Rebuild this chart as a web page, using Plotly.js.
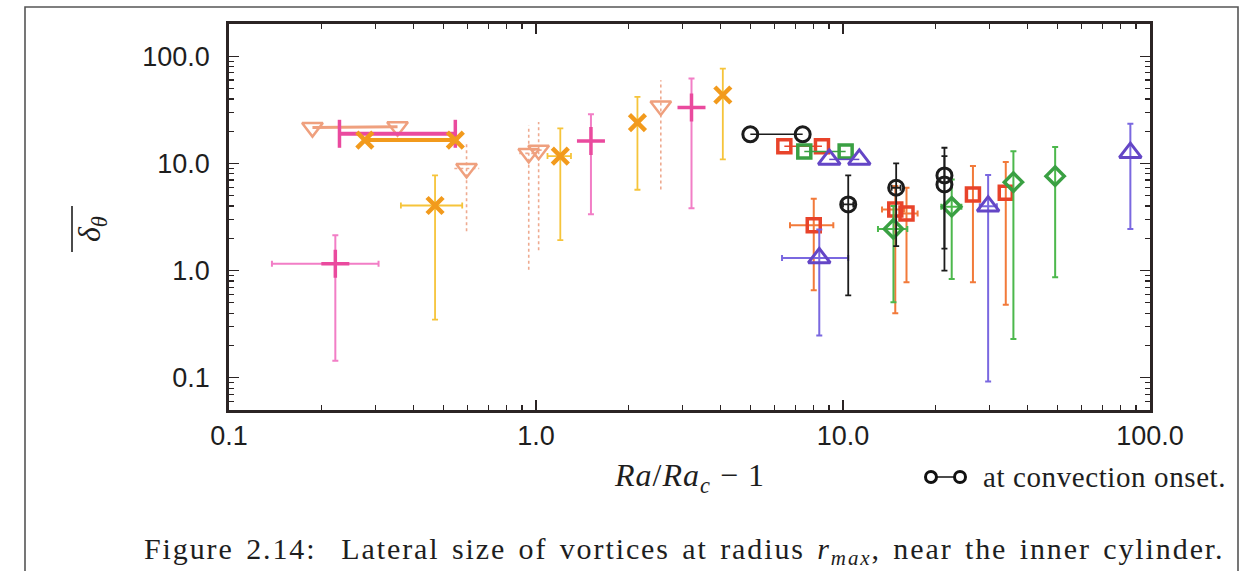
<!DOCTYPE html>
<html>
<head>
<meta charset="utf-8">
<script src="https://cdn.plot.ly/plotly-3.0.1.min.js"></script>
<style>
  html, body { margin: 0; padding: 0; background: #ffffff; }
  #chart { width: 1247px; height: 571px; }
</style>
</head>
<body>
<div id="chart"></div>
<script>
// ---------------- axis ticks ----------------
const axisTickVals = [0.1, 1, 10, 100];
const axisTickText = ['0.1', '1.0', '10.0', '100.0'];

// ---------------- pink plus ----------------
const pinkOnsetX = [0.229, 0.546];
const pinkOnsetY = [18.9, 18.9];
const pinkX   = [0.222, 1.51, 3.21];
const pinkY   = [1.16, 16.2, 33.2];
const pinkYLo = [0.144, 3.36, 3.82];
const pinkYHi = [2.14, 28.7, 61.9];
const pinkXLo = [0.138, null, null];
const pinkXHi = [0.307, null, null];

// ---------------- orange x ----------------
const orangeOnsetX = [0.277, 0.546];
const orangeOnsetY = [16.5, 16.5];
const orangeX   = [0.469, 1.20, 2.14, 4.06];
const orangeY   = [4.05, 11.7, 24.0, 43.5];
const orangeYLo = [0.348, 1.92, 5.68, 10.9];
const orangeYHi = [7.73, 21.2, 41.7, 76.7];
const orangeXLo = [0.363, 1.09, null, null];
const orangeXHi = [0.575, 1.30, null, null];

// ---------------- salmon triangle-down ----------------
const salmonOnsetX = [0.187, 0.354];
const salmonOnsetY = [21.6, 22.0];
const salmonX   = [0.594, 0.947, 1.02, 2.55];
const salmonY   = [8.98, 12.4, 13.3, 34.3];
const salmonYLo = [2.33, 1.02, 1.55, 5.72];
const salmonYHi = [15.1, 22.6, 24.3, 59.7];
const salmonXLo = [0.542, 0.882, 0.975, null];
const salmonXHi = [0.653, 0.995, 1.07, null];

// ---------------- black circles ----------------
const blackOnsetX = [4.99, 7.39];
const blackOnsetY = [18.7, 18.7];
const blackX   = [10.4, 14.9, 21.4, 21.4];
const blackY   = [4.14, 5.93, 7.73, 6.37];
const blackYLo = [0.587, 1.69, 1.6, 1.0];
const blackYHi = [7.73, 10.0, 14.0, 11.7];
const blackXLo = [10.0, 14.4, null, null];
const blackXHi = [10.8, 15.4, null, null];

// ---------------- red squares ----------------
const redOnsetX = [6.44, 8.54];
const redOnsetY = [14.5, 14.5];
const redX   = [8.03, 14.8, 16.1, 26.5, 33.9];
const redY   = [2.65, 3.72, 3.41, 5.13, 5.33];
const redYLo = [0.655, 0.40, 0.778, 0.778, 0.481];
const redYHi = [4.68, 6.14, 5.93, 9.44, 10.3];
const redXLo = [6.72, 13.4, 15.5, null, null];
const redXHi = [9.30, 15.8, 17.5, null, null];

// ---------------- green ----------------
const greenOnsetX = [7.48, 10.2];
const greenOnsetY = [12.9, 12.9];
const greenX   = [14.6, 22.6, 35.9, 49.1];
const greenY   = [2.45, 3.94, 6.69, 7.61];
const greenYLo = [0.506, 0.836, 0.23, 0.866];
const greenYHi = [4.0, 7.09, 13.0, 14.2];
const greenXLo = [13.0, 20.9, null, null];
const greenXHi = [16.2, 24.3, null, null];

// ---------------- purple triangle-up ----------------
const purpleOnsetX = [9.02, 11.3];
const purpleOnsetY = [10.9, 10.9];
const purpleX   = [8.37, 29.7, 86.3];
const purpleY   = [1.31, 3.99, 12.6];
const purpleYLo = [0.248, 0.0923, 2.45];
const purpleYHi = [2.42, 7.78, 23.5];
const purpleXLo = [6.33, 27.9, null];
const purpleXHi = [10.4, 31.7, null];

// ---------------- helpers ----------------
function plusErr(v, hi) { return hi.map((h, i) => h == null ? NaN : h - v[i]); }
function minusErr(v, lo) { return lo.map((l, i) => l == null ? NaN : v[i] - l); }

function singles(x, y, ylo, yhi, xlo, xhi, sym, size, col, lw, ecol, eth, ewid) {
  return {
    type: 'scatter', mode: 'markers', x: x, y: y, showlegend: false, hoverinfo: 'x+y',
    marker: { symbol: sym, size: size, color: col, line: { color: col, width: lw } },
    error_y: { type: 'data', symmetric: false, array: plusErr(y, yhi), arrayminus: minusErr(y, ylo),
               color: ecol, thickness: eth, width: ewid },
    error_x: { type: 'data', symmetric: false, array: plusErr(x, xhi), arrayminus: minusErr(x, xlo),
               color: ecol, thickness: eth, width: ewid }
  };
}
function onset(x, y, sym, size, col, lw, linew, linecol) {
  return {
    type: 'scatter', mode: 'lines+markers', x: x, y: y, showlegend: false, hoverinfo: 'x+y',
    line: { color: linecol || col, width: linew },
    marker: { symbol: sym, size: size, color: col, line: { color: col, width: lw } }
  };
}
// dotted error segments (for the salmon series) built from the data arrays
function dottedErr(x, y, ylo, yhi, xlo, xhi, col) {
  const vx = [], vy = [], hx = [], hy = [];
  for (let i = 0; i < x.length; i++) {
    vx.push(x[i], x[i], null); vy.push(ylo[i], yhi[i], null);
    if (xlo[i] != null) { hx.push(xlo[i], xhi[i], null); hy.push(y[i], y[i], null); }
  }
  return [
    { type: 'scatter', mode: 'lines', x: vx, y: vy, showlegend: false, hoverinfo: 'skip',
      line: { color: col, width: 1.6, dash: 'dot' } },
    { type: 'scatter', mode: 'lines', x: hx, y: hy, showlegend: false, hoverinfo: 'skip',
      line: { color: col, width: 1.6, dash: 'dot' } }
  ];
}

const cPink = '#ea4a9e', cPinkE = '#f27ec6';
const cOrange = '#f29a1c', cOrangeE = '#f6c43a';
const cSalmon = '#efa07e', cSalmonE = '#eeaa90';
const cBlack = '#1c1c1c';
const cRed = '#e8432a', cRedE = '#f27a3a';
const cGreen = '#3aa043', cGreenE = '#4cb84c';
const cPurple = '#6446c6', cPurpleE = '#7a68e0';

const salmonDots = dottedErr(salmonX, salmonY, salmonYLo, salmonYHi, salmonXLo, salmonXHi, cSalmonE);

const traces = [
  salmonDots[0], salmonDots[1],
  { type: 'scatter', mode: 'markers', x: salmonX, y: salmonY, showlegend: false,
    marker: { symbol: 'triangle-down-open', size: 18, color: cSalmon, line: { color: cSalmon, width: 2.5 } } },
  onset(salmonOnsetX, salmonOnsetY, 'triangle-down-open', 18, cSalmon, 2.5, 3),
  onset(pinkOnsetX, pinkOnsetY, 'line-ns-open', 20, cPink, 3.5, 4),
  onset(orangeOnsetX, orangeOnsetY, 'x-thin-open', 16, cOrange, 4.5, 4),
  singles(pinkX, pinkY, pinkYLo, pinkYHi, pinkXLo, pinkXHi, 'cross-thin-open', 20, cPink, 3.5, cPinkE, 2, 3),
  singles(orangeX, orangeY, orangeYLo, orangeYHi, orangeXLo, orangeXHi, 'x-thin-open', 16, cOrange, 4.5, cOrangeE, 1.8, 3),
  singles(redX, redY, redYLo, redYHi, redXLo, redXHi, 'square-open', 13, cRed, 3.5, cRedE, 2, 3),
  singles(greenX, greenY, greenYLo, greenYHi, greenXLo, greenXHi, 'diamond-open', 14, cGreen, 3.5, cGreenE, 2, 3),
  singles(purpleX, purpleY, purpleYLo, purpleYHi, purpleXLo, purpleXHi, 'triangle-up-open', 19, cPurple, 3, cPurpleE, 2, 3),
  singles(blackX, blackY, blackYLo, blackYHi, blackXLo, blackXHi, 'circle-open', 15, cBlack, 3, cBlack, 1.8, 3),
  onset(blackOnsetX, blackOnsetY, 'circle-open', 15, cBlack, 3, 1.5),
  onset(redOnsetX, redOnsetY, 'square-open', 13, cRed, 3.5, 1.5),
  onset(greenOnsetX, greenOnsetY, 'square-open', 13, cGreen, 3.5, 1.5),
  onset(purpleOnsetX, purpleOnsetY, 'triangle-up-open', 19, cPurple, 3, 1.5)
];

// plot area in pixels: x 229..1150, y 24..410
const W = 1247, H = 571, L = 229, R = 1150, T = 24, B = 410;
const px = v => (v - L) / (R - L);
const py = v => (B - v) / (B - T);

const axisLine = '#2b2424';
const tickFont = { family: 'Liberation Sans, Arial, sans-serif', size: 27, color: '#1e1e1e' };
const serif = 'Liberation Serif, Times New Roman, serif';

const layout = {
  width: W, height: H,
  margin: { l: L, r: W - R, t: T, b: H - B, pad: 0 },
  paper_bgcolor: '#ffffff', plot_bgcolor: '#ffffff',
  showlegend: false,
  xaxis: {
    type: 'log', range: [-1, 2], tickmode: 'array', tickvals: axisTickVals, ticktext: axisTickText,
    ticks: 'inside', ticklen: 10, tickwidth: 1.5, tickcolor: axisLine,
    showline: true, linecolor: axisLine, linewidth: 2.7, mirror: 'allticks',
    showgrid: false, zeroline: false, tickfont: tickFont, ticklabelstandoff: 0,
    minor: { dtick: 'D1', ticks: 'inside', ticklen: 5, tickwidth: 1.2, tickcolor: axisLine, showgrid: false }
  },
  yaxis: {
    type: 'log', range: [Math.log10(0.05), Math.log10(200)], tickmode: 'array', tickvals: axisTickVals, ticktext: axisTickText,
    ticks: 'inside', ticklen: 10, tickwidth: 1.5, tickcolor: axisLine,
    showline: true, linecolor: axisLine, linewidth: 2.7, mirror: 'allticks',
    showgrid: false, zeroline: false, tickfont: tickFont, ticklabelstandoff: 11,
    minor: { dtick: 'D1', ticks: 'inside', ticklen: 5, tickwidth: 1.2, tickcolor: axisLine, showgrid: false }
  },
  annotations: [
    { xref: 'paper', yref: 'paper', x: px(91), y: py(229), text: '<i>δ</i><sub><i>θ</i></sub>', showarrow: false,
      textangle: -90, font: { family: serif, size: 32, color: '#1e1e1e' }, xanchor: 'center', yanchor: 'middle' },
    { xref: 'paper', yref: 'paper', x: px(689), y: py(477),
      text: '<span style="letter-spacing:1px"><i>Ra</i>/<i>Ra</i><sub><i>c</i></sub> − 1</span>', showarrow: false,
      font: { family: serif, size: 32, color: '#1e1e1e' }, xanchor: 'center', yanchor: 'middle' },
    { xref: 'paper', yref: 'paper', x: px(981), y: py(477),
      text: '<span style="letter-spacing:0.6px">at convection onset.</span>', showarrow: false,
      font: { family: serif, size: 29, color: '#1e1e1e' }, xanchor: 'left', yanchor: 'middle' },
    { xref: 'paper', yref: 'paper', x: px(684), y: py(551),
      text: '<span style="letter-spacing:1.9px;word-spacing:3px">Figure 2.14:  Lateral size of vortices at radius <i>r</i><sub><i>max</i></sub>, near the inner cylinder.</span>', showarrow: false,
      font: { family: serif, size: 30, color: '#1e1e1e' }, xanchor: 'center', yanchor: 'middle' }
  ],
  shapes: [
    // page frame (left, top, right)
    { type: 'path', xref: 'paper', yref: 'paper',
      path: 'M ' + px(25) + ',' + py(580) + ' L ' + px(25) + ',' + py(7) + ' L ' + px(1238) + ',' + py(7) + ' L ' + px(1238) + ',' + py(580),
      line: { color: '#555555', width: 1.6 } },
    // overline of the y title
    { type: 'line', xref: 'paper', yref: 'paper', x0: px(72), x1: px(72), y0: py(252), y1: py(206),
      line: { color: '#1e1e1e', width: 1.6 } },
    // "o-o" key
    { type: 'line', xref: 'paper', yref: 'paper', x0: px(937), x1: px(954), y0: py(477), y1: py(477),
      line: { color: '#111111', width: 1.5 } },
    { type: 'circle', xref: 'paper', yref: 'paper', x0: px(925.5), x1: px(936.5), y0: py(482.5), y1: py(471.5),
      line: { color: '#111111', width: 3 } },
    { type: 'circle', xref: 'paper', yref: 'paper', x0: px(954.5), x1: px(965.5), y0: py(482.5), y1: py(471.5),
      line: { color: '#111111', width: 3 } }
  ]
};

Plotly.newPlot('chart', traces, layout, { staticPlot: true, displayModeBar: false });
</script>
</body>
</html>
